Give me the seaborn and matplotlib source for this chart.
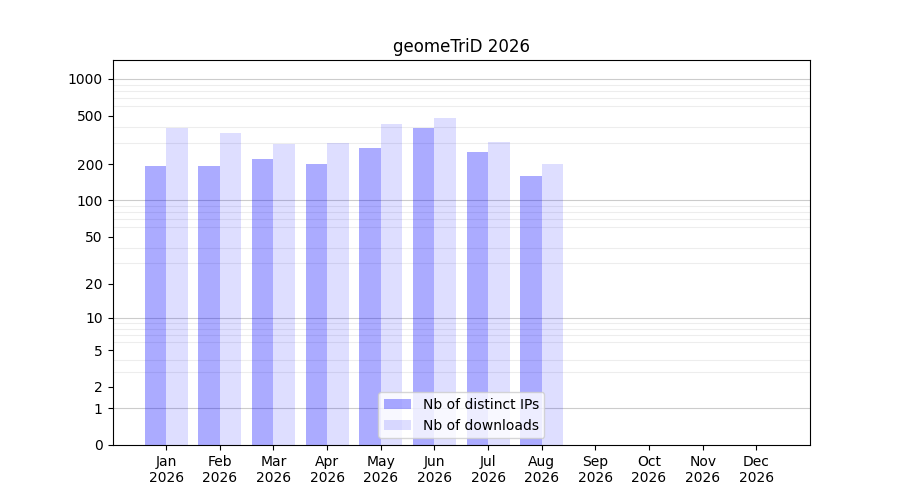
import numpy as np
import pandas as pd
import matplotlib
matplotlib.use("Agg")
import matplotlib.pyplot as plt
import seaborn as sns
from matplotlib.ticker import FixedLocator, FuncFormatter

months = ["Jan", "Feb", "Mar", "Apr", "May", "Jun", "Jul", "Aug", "Sep", "Oct", "Nov", "Dec"]
year = "2026"
distinct_ips = [193, 193, 221, 201, 272, 397, 252, 160, 0, 0, 0, 0]
downloads = [397, 361, 293, 300, 428, 479, 304, 201, 0, 0, 0, 0]
series_names = ["Nb of distinct IPs", "Nb of downloads"]
title = "geomeTriD 2026"
ytick_values = [0, 1, 2, 5, 10, 20, 50, 100, 200, 500, 1000]
decade_lines = [1, 10, 100, 1000]

df = pd.DataFrame({
    "month": months * 2,
    "value": distinct_ips + downloads,
    "series": [series_names[0]] * len(months) + [series_names[1]] * len(months),
})

fig, ax = plt.subplots(figsize=(9, 5), dpi=100)
sns.barplot(data=df, x="month", y="value", hue="series", order=months,
            hue_order=series_names, palette=["blue", "blue"], width=0.8,
            ax=ax, legend=False, saturation=1, zorder=2)
alphas = [0.33, 0.13]
for cont, a, lab in zip(ax.containers, alphas, series_names):
    for p in cont.patches:
        p.set_alpha(a)
        p.set_edgecolor("none")
    cont.set_label(lab)

ax.set_yscale("function", functions=(lambda x: np.log10(np.clip(x, 0, None) + 1),
                                     lambda y: 10 ** y - 1))
ax.set_ylim(0, 1430)
ax.set_xlim(-1, 12)

minor = [m * d for d in (1, 10, 100) for m in range(2, 10)]
ax.yaxis.set_major_locator(FixedLocator(ytick_values))
ax.yaxis.set_major_formatter(FuncFormatter(lambda v, p: f"{int(round(v))}"))
ax.yaxis.set_minor_locator(FixedLocator(minor))
ax.yaxis.set_minor_formatter(FuncFormatter(lambda v, p: ""))
ax.tick_params(axis="y", which="minor", length=0)
ax.yaxis.grid(True, which="minor", color="black", alpha=0.07, linewidth=0.8, zorder=0)
for d in decade_lines:
    ax.axhline(d, color="black", alpha=0.2, linewidth=0.8, zorder=0)
ax.set_axisbelow(True)

ax.set_xticks(range(len(months)))
ax.set_xticklabels([f"{m}\n{year}" for m in months])
ax.set_xlabel("")
ax.set_ylabel("")
ax.set_title(title)
ax.legend(handles=ax.containers[:2], labels=series_names, loc="lower center")

fig.savefig("out.png", dpi=100)
